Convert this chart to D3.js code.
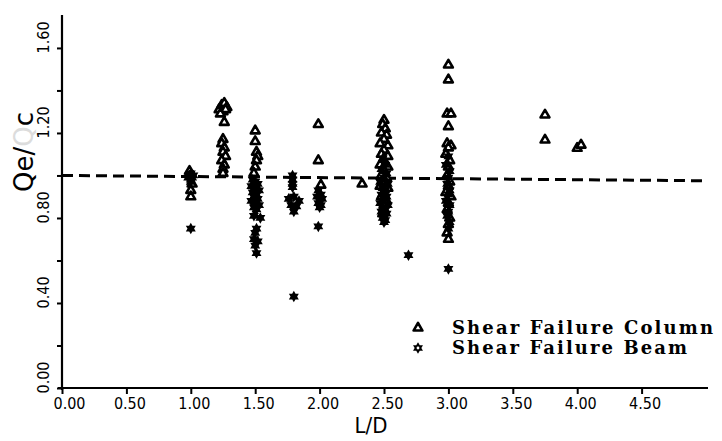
<!DOCTYPE html>
<html>
<head>
<meta charset="utf-8">
<script src="https://cdn.jsdelivr.net/npm/d3@7"></script>
<style>
  html, body { margin: 0; padding: 0; background: #fff; }
  svg { display: block; }
</style>
</head>
<body>
<svg id="chart" width="722" height="441"></svg>
<script>
// ---------------- data ----------------
const xTickValues = [0, 0.5, 1.0, 1.5, 2.0, 2.5, 3.0, 3.5, 4.0, 4.5];
const yMajorTicks = [0, 0.4, 0.8, 1.2, 1.6];
const yMinorTicks = [0.2, 0.6, 1.0, 1.4];
const xTitle = "L/D";
const legendLabels = ["Shear Failure Column", "Shear Failure Beam"];
const referenceLine = [[0, 1.0], [5.0, 0.975]];

// Shear Failure Column (open triangles): [L/D, Qe/Qc]
const columnPoints = [
  [0.99, 1.02], [1.01, 0.96], [1.00, 0.93], [1.00, 0.90],
  [1.22, 1.31], [1.24, 1.33], [1.26, 1.34], [1.28, 1.32], [1.25, 1.30], [1.27, 1.31], [1.23, 1.29],
  [1.26, 1.25], [1.25, 1.17], [1.24, 1.15], [1.26, 1.13], [1.25, 1.11], [1.27, 1.09],
  [1.24, 1.07], [1.26, 1.05], [1.25, 1.03], [1.25, 1.01],
  [1.50, 1.21], [1.50, 1.16], [1.51, 1.11], [1.52, 1.09], [1.51, 1.07], [1.50, 1.04], [1.49, 1.01],
  [1.99, 1.24], [1.99, 1.07], [2.01, 0.955],
  [2.33, 0.96],
  [2.50, 1.26], [2.49, 1.24], [2.51, 1.22], [2.48, 1.20], [2.52, 1.19], [2.50, 1.17], [2.47, 1.15],
  [2.53, 1.14], [2.50, 1.12], [2.48, 1.10], [2.53, 1.09], [2.50, 1.07], [2.47, 1.05], [2.53, 1.04],
  [2.50, 1.02], [2.48, 1.00], [2.52, 0.99], [2.50, 0.97], [2.47, 0.95], [2.53, 0.94], [2.50, 0.92],
  [2.48, 0.90], [2.52, 0.88], [2.50, 0.86], [2.49, 0.82],
  [3.00, 1.52], [3.00, 1.45], [2.99, 1.29], [3.02, 1.29], [3.00, 1.23], [2.99, 1.15], [3.02, 1.14],
  [3.00, 1.13], [2.98, 1.10], [3.01, 1.07], [3.00, 1.04], [2.99, 1.00], [3.01, 0.97], [3.00, 0.95],
  [2.98, 0.92], [3.02, 0.90], [3.00, 0.87], [2.99, 0.84], [3.01, 0.80], [3.00, 0.77], [2.99, 0.73],
  [3.00, 0.70],
  [3.75, 1.285], [3.75, 1.167], [4.00, 1.128], [4.03, 1.143]
];

// Shear Failure Beam (filled stars): [L/D, Qe/Qc]
const beamPoints = [
  [1.00, 1.01], [0.99, 1.00], [1.01, 0.99], [1.00, 0.98], [0.98, 0.99], [1.02, 1.00], [1.00, 0.97],
  [1.00, 0.75],
  [1.48, 0.98], [1.50, 0.97], [1.52, 0.96], [1.47, 0.95], [1.50, 0.94], [1.53, 0.93], [1.48, 0.92],
  [1.51, 0.91], [1.49, 0.90], [1.52, 0.89], [1.47, 0.88], [1.50, 0.87], [1.53, 0.86], [1.49, 0.85],
  [1.51, 0.84], [1.49, 0.81], [1.54, 0.80], [1.51, 0.75], [1.50, 0.73], [1.49, 0.70], [1.52, 0.69],
  [1.50, 0.67], [1.51, 0.635],
  [1.79, 1.00], [1.79, 0.98], [1.79, 0.96], [1.79, 0.945], [1.76, 0.89], [1.80, 0.90], [1.84, 0.88],
  [1.78, 0.86], [1.82, 0.855], [1.80, 0.83], [1.80, 0.43],
  [1.99, 0.93], [2.01, 0.91], [1.98, 0.90], [2.02, 0.89], [1.99, 0.87], [2.01, 0.86], [2.00, 0.85],
  [1.99, 0.76],
  [2.49, 1.08], [2.51, 1.05], [2.48, 1.03], [2.52, 1.01], [2.50, 0.99], [2.47, 0.97], [2.53, 0.96],
  [2.49, 0.94], [2.51, 0.93], [2.48, 0.91], [2.52, 0.90], [2.50, 0.89], [2.47, 0.87], [2.53, 0.86],
  [2.49, 0.85], [2.51, 0.84], [2.48, 0.83], [2.52, 0.82], [2.50, 0.81], [2.49, 0.80], [2.51, 0.79],
  [2.50, 0.78],
  [2.69, 0.625],
  [3.00, 1.09], [2.98, 1.05], [3.01, 1.02], [3.00, 0.99], [2.99, 0.96], [3.01, 0.93], [3.00, 0.91],
  [2.98, 0.88], [3.01, 0.86], [3.00, 0.83], [2.99, 0.81], [3.01, 0.78], [3.00, 0.75],
  [3.00, 0.56]
];

// ---------------- chart ----------------
const svg = d3.select("#chart");
const x = d3.scaleLinear().domain([0, 5.0]).range([62, 706]);
const y = d3.scaleLinear().domain([0, 1.755]).range([388, 15]);

const tickFont = "'DejaVu Sans Condensed', 'DejaVu Sans', sans-serif";

// hexagram symbol
const hexagram = {
  draw(ctx, size) {
    const r = Math.sqrt(size) / 2;
    const pt = a => [r * Math.cos(a * Math.PI / 180), r * Math.sin(a * Math.PI / 180)];
    [[-90, 30, 150], [90, 210, 330]].forEach(tri => {
      tri.forEach((a, i) => {
        const [px, py] = pt(a);
        if (i === 0) ctx.moveTo(px, py); else ctx.lineTo(px, py);
      });
      ctx.closePath();
    });
  }
};
const triPath = d3.symbol().type(d3.symbolTriangle).size(34)();
const starPath = d3.symbol().type(hexagram).size(132)();

// reference dashed line
svg.append("path")
  .attr("d", d3.line().x(d => x(d[0])).y(d => y(d[1]))(referenceLine))
  .attr("fill", "none").attr("stroke", "#000").attr("stroke-width", 3)
  .attr("stroke-dasharray", "11,6");

// Y axis
const yAxis = d3.axisLeft(y)
  .tickValues(yMajorTicks.concat(yMinorTicks))
  .tickSize(5)
  .tickFormat(d => yMajorTicks.includes(d) ? d3.format(".2f")(d) : "");
const gy = svg.append("g").attr("transform", `translate(${x(0)},0)`).call(yAxis);
gy.select(".domain").attr("stroke-width", 2.2).attr("d", `M0,${y(0) + 2}V${y.range()[1]}`);
gy.selectAll(".tick line").attr("stroke-width", 2);
gy.selectAll(".tick text")
  .attr("x", null).attr("dy", null)
  .attr("transform", "translate(-19,-11) rotate(-90)")
  .attr("text-anchor", "middle").attr("dominant-baseline", "central")
  .style("font-family", tickFont).style("font-size", "16px").attr("fill", "#000");

// X axis
const xAxis = d3.axisBottom(x)
  .tickValues(xTickValues)
  .tickSize(6).tickPadding(4)
  .tickFormat(d3.format(".2f"));
const gx = svg.append("g").attr("transform", `translate(0,${y(0)})`).call(xAxis);
gx.select(".domain").attr("stroke-width", 2.2).attr("d", `M${x(0) - 4},0H${x.range()[1] + 2}`);
gx.selectAll(".tick line").attr("stroke-width", 2);
gx.selectAll(".tick text")
  .attr("dx", (d, i) => i === 0 ? 7 : 3)
  .style("font-family", tickFont).style("font-size", "16px").attr("fill", "#000");

// axis titles
svg.append("text")
  .attr("x", 371).attr("y", 433)
  .attr("text-anchor", "middle")
  .style("font-family", tickFont).style("font-size", "22px")
  .text(xTitle);

const yt = svg.append("text")
  .attr("transform", "translate(33,152) rotate(-90)")
  .attr("text-anchor", "middle")
  .style("font-family", "'DejaVu Sans', sans-serif").style("font-size", "26px");
yt.append("tspan").text("Qe/");
yt.append("tspan").attr("fill", "#dcdcdc").text("Q");
yt.append("tspan").text("c");

// points
svg.append("g").selectAll("path").data(columnPoints).join("path")
  .attr("d", triPath)
  .attr("transform", d => `translate(${x(d[0])},${y(d[1])})`)
  .attr("fill", "#fff").attr("stroke", "#000").attr("stroke-width", 2.6)
  .attr("stroke-linejoin", "round");

svg.append("g").selectAll("path").data(beamPoints).join("path")
  .attr("d", starPath)
  .attr("transform", d => `translate(${x(d[0])},${y(d[1])})`)
  .attr("fill", "#000");

// legend
const lg = svg.append("g");
lg.append("path").attr("d", triPath).attr("transform", "translate(418,328)")
  .attr("fill", "#fff").attr("stroke", "#000").attr("stroke-width", 2.6).attr("stroke-linejoin", "round");
lg.append("path").attr("d", starPath).attr("transform", "translate(418,348)").attr("fill", "#000");
lg.append("circle").attr("cx", 418).attr("cy", 348).attr("r", 1.4).attr("fill", "#fff");
const legendWidths = [261, 235];
legendLabels.forEach((t, i) => {
  lg.append("text")
    .attr("x", 452).attr("y", 333.5 + i * 20)
    .attr("textLength", legendWidths[i]).attr("lengthAdjust", "spacing")
    .style("font-family", "'DejaVu Serif', serif").style("font-size", "18px")
    .style("font-weight", "bold")
    .text(t);
});
</script>
</body>
</html>
